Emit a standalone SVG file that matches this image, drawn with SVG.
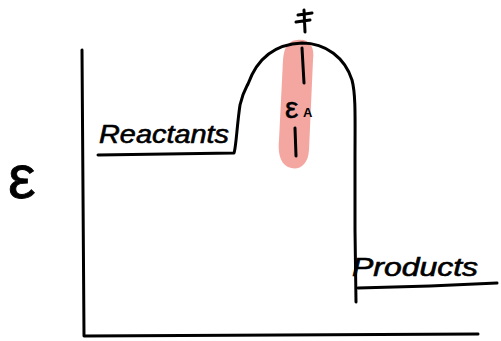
<svg xmlns="http://www.w3.org/2000/svg" width="501" height="341" viewBox="0 0 501 341">
<style>
.ink{fill:none;stroke:#000;stroke-width:3;stroke-linecap:round;stroke-linejoin:round}
.hand{font-family:"Liberation Sans","DejaVu Sans",sans-serif;fill:#000}
</style>
<rect width="501" height="341" fill="#fff"/>
<path d="M297,40 C309,38 315,46 313,60 L309,150 C308,167 297,171 288,167 C279,163 278,150 279,140 L283,60 C284,47 288,41 297,40 Z" fill="#f4a7a1"/>
<path class="ink" d="M82,50 L84,336 L478,334"/>
<path class="ink" d="M98,155 L234,153 C236,148 237,125 240,105 C243,92 246,88 248,84 C258,56 278,44 302,43 C326,43 345,58 352,80 C356,95 355,120 355,160 L355,230 L356,302"/>
<path class="ink" d="M358,288 L430,286 L497,283"/>
<path class="ink" d="M302,48 L304,83 M295,128 L296,156"/>
<path class="ink" d="M298,15 L312,13 M296,22 L310,20 M304,10 L305,32"/>
<text class="hand" x="99" y="143" font-size="25" font-style="italic" textLength="130" lengthAdjust="spacingAndGlyphs" stroke="#000" stroke-width="0.6">Reactants</text>
<text class="hand" x="352" y="276" font-size="25" font-style="italic" textLength="126" lengthAdjust="spacingAndGlyphs" stroke="#000" stroke-width="0.6">Products</text>
<text class="hand" x="285" y="118" font-size="30" stroke="#000" stroke-width="0.5">ε</text>
<text class="hand" x="303" y="117" font-size="13" font-weight="bold">A</text>
<text class="hand" x="8" y="198" font-size="62" stroke="#000" stroke-width="0.8">ε</text>
</svg>
